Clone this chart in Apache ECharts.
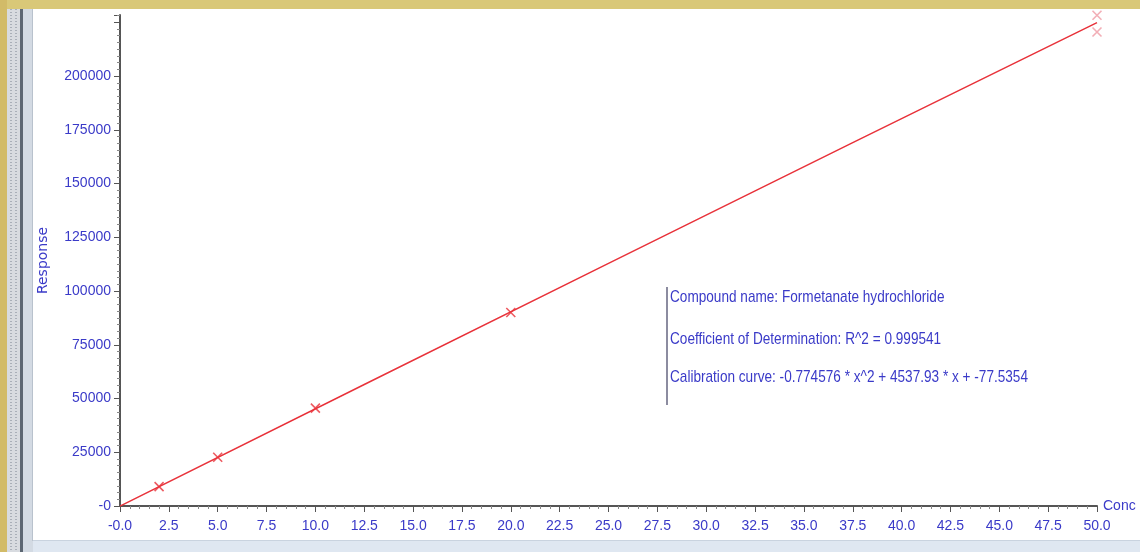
<!DOCTYPE html>
<html>
<head>
<meta charset="utf-8">
<title>Formetanate hydrochloride calibration</title>
<script src="https://cdn.jsdelivr.net/npm/echarts@6/dist/echarts.min.js"></script>
<style>
  html, body { margin: 0; padding: 0; background: #ffffff; }
  #chart { width: 1140px; height: 552px; }
</style>
</head>
<body>
<div id="chart"></div>
<script>
// Calibration standards: concentration and measured response
const standardConc = [2, 5, 10, 20, 50, 50];
const standardResponse = [9000, 22700, 45500, 90000, 228300, 220500];

// Quadratic fit coefficients as reported: a*x^2 + b*x + c
const fitCoefficients = [-0.774576, 4537.93, -77.5354];
const fitConc = [0, 12.5, 25, 37.5, 50];

// Axis ticks
const xTickStep = 2.5;
const yTickStep = 25000;
const yLabelTop = 200000;

// Annotation lines
const infoLines = [
  'Compound name: Formetanate hydrochloride',
  'Coefficient of Determination: R^2 = 0.999541',
  'Calibration curve: -0.774576 * x^2 + 4537.93 * x + -77.5354'
];

const fitPoints = fitConc.map(x => [x, fitCoefficients[0] * x * x + fitCoefficients[1] * x + fitCoefficients[2]]);

const red = '#e8323a';
const paleRed = 'rgba(232,110,125,0.7)';
const highConc = Math.max.apply(null, standardConc);
const standardPoints = standardConc.map((x, i) => ({
  value: [x, standardResponse[i]],
  itemStyle: { borderColor: x === highConc ? paleRed : red }
}));

const blue = '#3a3ac8';
const narrow = '"Liberation Sans Narrow", "Liberation Sans", Arial, sans-serif';
const infoFont = '17px ' + narrow;
const crossPath = 'path://M0,0L10,10M10,0L0,10';

// squeeze the annotation into a condensed block of fixed width
const ctx = document.createElement('canvas').getContext('2d');
ctx.font = infoFont;
const infoScale = Math.min(1, 358 / ctx.measureText(infoLines[2]).width);

const chart = echarts.init(document.getElementById('chart'), null, { renderer: 'canvas' });

chart.setOption({
  animation: false,
  backgroundColor: '#ffffff',
  grid: { left: 120, right: 43, top: 15, bottom: 46, containLabel: false },
  xAxis: [{
    type: 'value',
    min: 0,
    max: 50,
    interval: xTickStep,
    name: 'Conc',
    nameLocation: 'end',
    nameGap: 6,
    nameTextStyle: { color: blue, fontFamily: narrow, fontSize: 14, verticalAlign: 'middle' },
    axisLine: { show: true, onZero: false, lineStyle: { color: '#555555', width: 2 } },
    axisTick: { show: true, inside: false, length: 6, lineStyle: { color: '#555555', width: 1 } },
    minorTick: { show: true, splitNumber: 5, length: 3, lineStyle: { color: '#888888', width: 1 } },
    splitLine: { show: false },
    minorSplitLine: { show: false },
    axisLabel: {
      color: blue, fontFamily: narrow, fontSize: 14, margin: 13,
      showMinLabel: true, showMaxLabel: true, hideOverlap: false,
      formatter: v => (v === 0 ? '-0.0' : v.toFixed(1))
    }
  }],
  yAxis: [{
    type: 'value',
    min: 0,
    max: 228400,
    interval: yTickStep,
    name: 'Response',
    nameLocation: 'middle',
    nameRotate: 90,
    nameGap: 70,
    nameTextStyle: { color: blue, fontFamily: '"DejaVu Sans", sans-serif', fontSize: 14 },
    axisLine: { show: true, onZero: false, lineStyle: { color: '#555555', width: 2 } },
    axisTick: { show: true, inside: false, length: 6, lineStyle: { color: '#555555', width: 1 } },
    minorTick: { show: true, splitNumber: 8, length: 3, lineStyle: { color: '#888888', width: 1 } },
    splitLine: { show: false },
    minorSplitLine: { show: false },
    axisLabel: {
      color: blue, fontFamily: narrow, fontSize: 14, margin: 9,
      showMinLabel: true, showMaxLabel: true, hideOverlap: false,
      formatter: v => (v === 0 ? '-0' : (v > yLabelTop ? '' : String(v)))
    }
  }],
  series: [
    {
      name: 'Calibration curve',
      type: 'line',
      data: fitPoints,
      showSymbol: false,
      smooth: false,
      lineStyle: { color: red, width: 1.5 },
      z: 2
    },
    {
      name: 'Standards',
      type: 'scatter',
      data: standardPoints,
      symbol: crossPath,
      symbolSize: 9,
      itemStyle: { color: 'transparent', borderColor: red, borderWidth: 1.6 },
      z: 3
    }
  ],
  graphic: [
    // window frame: top band
    { type: 'rect', shape: { x: 0, y: 0, width: 1140, height: 9 }, style: { fill: '#d9c878' }, silent: true, z: 100 },
    // left frame strips
    { type: 'rect', shape: { x: 0, y: 0, width: 7, height: 552 }, style: { fill: '#d2bb68' }, silent: true, z: 100 },
    { type: 'rect', shape: { x: 7, y: 9, width: 13, height: 543 }, style: { fill: '#d8dbe0' }, silent: true, z: 100 },
    { type: 'line', shape: { x1: 11, y1: 9, x2: 11, y2: 552 }, style: { stroke: '#a9afb8', lineWidth: 2, lineDash: [1, 2] }, silent: true, z: 101 },
    { type: 'line', shape: { x1: 16, y1: 9, x2: 16, y2: 552 }, style: { stroke: '#a9afb8', lineWidth: 2, lineDash: [1, 2] }, silent: true, z: 101 },
    { type: 'rect', shape: { x: 20, y: 9, width: 3, height: 543 }, style: { fill: '#5c6672' }, silent: true, z: 100 },
    { type: 'rect', shape: { x: 23, y: 9, width: 10, height: 543 }, style: { fill: '#d3dae3' }, silent: true, z: 100 },
    { type: 'rect', shape: { x: 32, y: 9, width: 1, height: 532 }, style: { fill: '#b9c2cd' }, silent: true, z: 100 },
    // bottom band
    { type: 'rect', shape: { x: 33, y: 541, width: 1107, height: 11 }, style: { fill: '#dfe7f1' }, silent: true, z: 100 },
    { type: 'rect', shape: { x: 33, y: 540, width: 1107, height: 1 }, style: { fill: '#c9d3df' }, silent: true, z: 100 },
    // annotation marker bar
    { type: 'rect', shape: { x: 666, y: 287, width: 2, height: 118 }, style: { fill: '#8c8ca0' }, silent: true, z: 50 },
    // annotation text
    { type: 'text', x: 670, y: 297, scaleX: infoScale, style: { text: infoLines[0], fill: blue, font: infoFont, verticalAlign: 'middle' }, silent: true, z: 50 },
    { type: 'text', x: 670, y: 339, scaleX: infoScale, style: { text: infoLines[1], fill: blue, font: infoFont, verticalAlign: 'middle' }, silent: true, z: 50 },
    { type: 'text', x: 670, y: 377, scaleX: infoScale, style: { text: infoLines[2], fill: blue, font: infoFont, verticalAlign: 'middle' }, silent: true, z: 50 }
  ]
});
</script>
</body>
</html>
